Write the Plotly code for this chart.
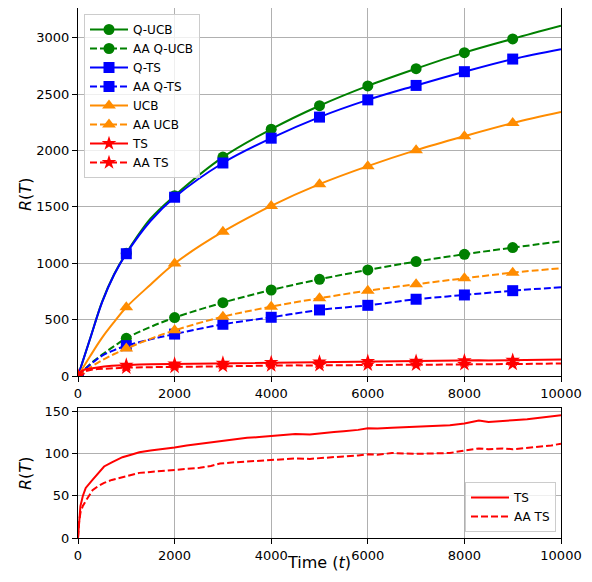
import numpy as np
import plotly.graph_objects as go

# ---------------- data ----------------
t_main = [0, 250, 500, 750, 1000, 1500, 2000, 3000, 4000, 5000, 6000, 7000, 8000, 9000, 10000]
q_ucb = [0, 330, 660, 905, 1090, 1395, 1600, 1942, 2190, 2398, 2574, 2727, 2869, 2991, 3107]
aa_q_ucb = [0, 105, 190, 265, 334, 435, 518, 651, 763, 858, 941, 1015, 1080, 1139, 1195]
q_ts = [0, 330, 655, 900, 1085, 1375, 1586, 1890, 2110, 2297, 2450, 2578, 2700, 2812, 2900]
aa_q_ts = [0, 100, 180, 230, 269, 325, 372, 459, 521, 586, 627, 681, 719, 757, 787]
ucb = [0, 175, 340, 480, 610, 810, 998, 1280, 1509, 1702, 1862, 2004, 2128, 2244, 2342]
aa_ucb = [0, 75, 140, 195, 243, 330, 405, 526, 615, 690, 757, 814, 867, 917, 956]

ts_t = [0, 20, 50, 100, 160, 300, 400, 540, 700, 920, 1100, 1270, 1500, 1690, 2000,
        2250, 2520, 2750, 2940, 3250, 3500, 3750, 4000, 4300, 4500, 4800, 5000, 5300,
        5500, 5800, 6000, 6200, 6500, 7000, 7300, 7700, 8000, 8300, 8500, 8800, 9000,
        9300, 9500, 9800, 10000]
ts = [0, 22, 38, 50, 59.5, 69, 76, 85, 90, 96, 99, 102, 104, 105, 107.5, 110, 112,
      113.5, 114.6, 117, 119, 120, 121, 122, 123.5, 123, 124.5, 126, 127, 128.5, 130.5,
      130, 131, 132, 132.5, 134, 136, 139.5, 138, 139.5, 140, 141, 142.5, 144.5, 146]
aa_ts = [0, 18, 30, 38, 44, 56.7, 61, 65.5, 69, 72.6, 75, 77.4, 78.5, 79.5, 80.6, 82.5,
         83.4, 85.5, 88.5, 90, 91, 92, 93, 93.5, 94.5, 94, 95, 96, 97, 98, 99.5, 99, 101,
         100, 100.5, 101, 104, 106.5, 105.5, 106.5, 105.5, 107, 108, 110, 112]

x_ticks = [0, 2000, 4000, 6000, 8000, 10000]
x_tick_labels = ["0", "2000", "4000", "6000", "8000", "10000"]
y_ticks_top = [0, 500, 1000, 1500, 2000, 2500, 3000]
y_ticks_bot = [0, 50, 100, 150]

GREEN, BLUE, ORANGE, RED = "#008000", "#0000ff", "#ff8c00", "#ff0000"
DASH = "7px,3px"
OFF = 8  # default page body margin
W, H = 592 - 2 * OFF, 582 - 2 * OFF


def px(x):
    return (x - OFF) / W


def py(y):
    return 1 - (y - OFF) / H


fig = go.Figure()


def add_series(name, t, y, color, dash, symbol, msize, shape="spline"):
    t = list(t)
    y = list(y)
    fig.add_trace(go.Scatter(x=t, y=y, mode="lines", line=dict(color=color, width=2, dash=dash, shape=shape),
                             showlegend=False, hoverinfo="skip", xaxis="x", yaxis="y"))
    mx = [tt for tt in range(0, 10000, 1000)]
    my = list(np.interp(mx, t, y))
    fig.add_trace(go.Scatter(x=mx, y=my, mode="markers",
                             marker=dict(color=color, size=msize, symbol=symbol, line=dict(width=0)),
                             showlegend=False, xaxis="x", yaxis="y"))
    fig.add_trace(go.Scatter(x=[None], y=[None], mode="lines+markers", name=name,
                             line=dict(color=color, width=2, dash=dash),
                             marker=dict(color=color, size=msize, symbol=symbol),
                             legend="legend", xaxis="x", yaxis="y"))


add_series("Q-UCB", t_main, q_ucb, GREEN, "solid", "circle", 11)
add_series("AA Q-UCB", t_main, aa_q_ucb, GREEN, DASH, "circle", 11)
add_series("Q-TS", t_main, q_ts, BLUE, "solid", "square", 11)
add_series("AA Q-TS", t_main, aa_q_ts, BLUE, DASH, "square", 11)
add_series("UCB", t_main, ucb, ORANGE, "solid", "triangle-up", 12)
add_series("AA UCB", t_main, aa_ucb, ORANGE, DASH, "triangle-up", 12)
add_series("TS", ts_t, ts, RED, "solid", "star", 11, shape="linear")
add_series("AA TS", ts_t, aa_ts, RED, DASH, "star", 11, shape="linear")

# bottom panel
fig.add_trace(go.Scatter(x=ts_t, y=ts, mode="lines", name="TS", line=dict(color=RED, width=2),
                         legend="legend2", xaxis="x2", yaxis="y2"))
fig.add_trace(go.Scatter(x=ts_t, y=aa_ts, mode="lines", name="AA TS", line=dict(color=RED, width=2, dash=DASH),
                         legend="legend2", xaxis="x2", yaxis="y2"))

FONT = "DejaVu Sans"
x0, x1 = px(78), px(561)


def ax_common():
    return dict(showline=True, linecolor="black", linewidth=1, mirror=True,
                ticks="outside", ticklen=5, tickwidth=1, tickcolor="black",
                showgrid=True, gridcolor="#b0b0b0", gridwidth=1, zeroline=False,
                automargin=False,
                tickfont=dict(family=FONT, size=13, color="black"))


title_font = dict(family=FONT, size=16, color="black")
annotations = [
    dict(text="<i>R</i>(<i>T</i>)", x=px(25), y=py(195), xref="paper", yref="paper",
         textangle=-90, showarrow=False, font=title_font, xanchor="center", yanchor="middle"),
    dict(text="<i>R</i>(<i>T</i>)", x=px(25), y=py(474), xref="paper", yref="paper",
         textangle=-90, showarrow=False, font=title_font, xanchor="center", yanchor="middle"),
    dict(text="Time (<i>t</i>)", x=px(319), y=0, xref="paper", yref="paper",
         showarrow=False, font=title_font, xanchor="center", yanchor="bottom"),
]

fig.update_layout(
    width=W, height=H,
    margin=dict(l=0, r=0, t=0, b=0),
    paper_bgcolor="white", plot_bgcolor="white",
    font=dict(family=FONT, color="black"),
    xaxis=dict(domain=[x0, x1], range=[0, 10000], tickvals=x_ticks, ticktext=x_tick_labels,
               anchor="y", **ax_common()),
    yaxis=dict(domain=[py(376), py(8)], range=[0, 3265], tickvals=y_ticks_top, anchor="x",
               **ax_common()),
    xaxis2=dict(domain=[x0, x1], range=[0, 10000], tickvals=x_ticks, ticktext=x_tick_labels,
                anchor="y2", **ax_common()),
    yaxis2=dict(domain=[py(538), py(408)], range=[0, 154.5], tickvals=y_ticks_bot, anchor="x2",
                **ax_common()),
    annotations=annotations,
    legend=dict(x=px(84), y=py(14), xanchor="left", yanchor="top",
                bgcolor="rgba(255,255,255,0.8)", bordercolor="#cccccc", borderwidth=1,
                font=dict(family=FONT, size=12), tracegroupgap=0, itemwidth=38),
    legend2=dict(x=px(556), y=py(532), xanchor="right", yanchor="bottom",
                 bgcolor="rgba(255,255,255,0.8)", bordercolor="#cccccc", borderwidth=1,
                 font=dict(family=FONT, size=12), tracegroupgap=0, itemwidth=38),
    showlegend=True,
)

fig.write_html("out.html")
